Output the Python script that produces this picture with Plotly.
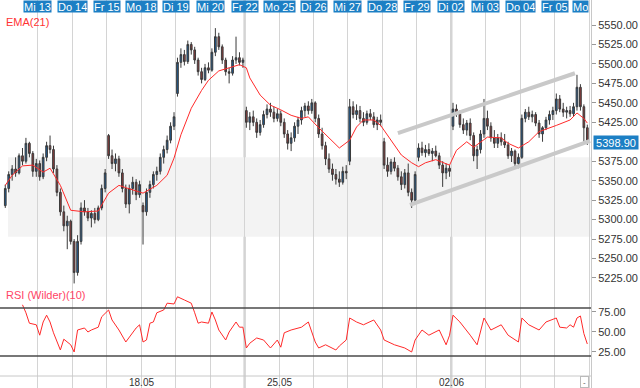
import plotly.graph_objects as go

# ---------------- data ----------------
day_labels = ["Mi 13", "Do 14", "Fr 15", "Mo 18", "Di 19", "Mi 20", "Fr 22", "Mo 25", "Di 26",
              "Mi 27", "Do 28", "Fr 29", "Di 02", "Mi 03", "Do 04", "Fr 05", "Mo"]
day_start_idx = [9.5, 19.5, 29.5, 39.5, 49.5, 59.5, 69.5, 79.5, 89.5,
                 99.5, 109.5, 119.5, 129.5, 139.5, 149.5, 159.5, 169.5]
gap_idx = [69.5, 129.5]
week_labels = ["18.05", "25.05", "02.06"]
week_idx = [39.5, 79.5, 129.5]

opens = [
    5318, 5340, 5358, 5365, 5360, 5382, 5375, 5398, 5385, 5362,
    5372, 5355, 5380, 5395, 5390, 5365, 5335, 5310, 5292, 5298,
    5272, 5232, 5272, 5315, 5310, 5302, 5308, 5300, 5315, 5340,
    5408, 5382, 5372, 5378, 5360, 5340, 5320, 5340, 5348, 5332,
    5318, 5310, 5335, 5345, 5358, 5362, 5380, 5390, 5402, 5420,
    5462, 5502, 5512, 5503, 5525, 5518, 5505, 5490, 5480, 5495,
    5492, 5515, 5535, 5522, 5505, 5490, 5488, 5505, 5508, 5502,
    5440, 5425, 5432, 5425, 5412, 5422, 5435, 5442, 5438, 5430,
    5436, 5425, 5410, 5398, 5405, 5420, 5428, 5440, 5446, 5440,
    5450, 5430, 5410, 5395, 5378, 5365, 5358, 5352, 5348, 5362,
    5375, 5445, 5435, 5440, 5430, 5425, 5436, 5432, 5422, 5428,
    5400, 5370, 5362, 5374, 5366, 5355, 5345, 5360, 5335, 5325,
    5380, 5392, 5386, 5390, 5385, 5388, 5382, 5370, 5360, 5366,
    5420, 5442, 5436, 5422, 5415, 5424, 5408, 5382, 5390, 5410,
    5430, 5420, 5405, 5398, 5405, 5400, 5396, 5382, 5388, 5372,
    5380, 5430, 5438, 5432, 5435, 5424, 5410, 5418, 5428, 5435,
    5440, 5455, 5442, 5438, 5440, 5436, 5445, 5470, 5445, 5418,
]
highs = [
    5345, 5362, 5370, 5380, 5385, 5392, 5405, 5400, 5388, 5378,
    5376, 5385, 5400, 5408, 5395, 5370, 5340, 5318, 5305, 5300,
    5275, 5280, 5322, 5325, 5315, 5312, 5315, 5318, 5345, 5365,
    5410, 5390, 5385, 5382, 5365, 5345, 5345, 5355, 5352, 5350,
    5322, 5340, 5350, 5362, 5368, 5385, 5395, 5408, 5425, 5438,
    5508, 5520, 5518, 5530, 5528, 5522, 5508, 5495, 5500, 5502,
    5520, 5546, 5540, 5525, 5508, 5495, 5510, 5535, 5515, 5508,
    5445, 5438, 5440, 5430, 5428, 5440, 5448, 5450, 5445, 5442,
    5440, 5430, 5415, 5412, 5425, 5432, 5445, 5450, 5452, 5455,
    5452, 5435, 5418, 5400, 5385, 5372, 5365, 5362, 5368, 5370,
    5455, 5452, 5448, 5446, 5438, 5440, 5442, 5438, 5432, 5435,
    5405, 5380, 5378, 5380, 5370, 5362, 5365, 5372, 5340, 5362,
    5398, 5400, 5396, 5398, 5392, 5395, 5386, 5375, 5372, 5370,
    5450, 5448, 5440, 5430, 5428, 5430, 5412, 5395, 5415, 5455,
    5440, 5425, 5415, 5410, 5412, 5410, 5400, 5392, 5390, 5385,
    5435, 5442, 5445, 5440, 5438, 5428, 5420, 5432, 5440, 5445,
    5462, 5460, 5450, 5445, 5446, 5450, 5486, 5474, 5448, 5422,
]
lows = [
    5315, 5335, 5350, 5355, 5358, 5370, 5372, 5380, 5355, 5355,
    5350, 5352, 5375, 5385, 5360, 5330, 5305, 5285, 5262, 5268,
    5218, 5228, 5268, 5305, 5298, 5290, 5295, 5298, 5312, 5335,
    5378, 5365, 5362, 5355, 5335, 5315, 5308, 5332, 5325, 5328,
    5268, 5305, 5328, 5340, 5350, 5358, 5372, 5385, 5398, 5415,
    5458, 5495, 5498, 5500, 5512, 5500, 5485, 5475, 5478, 5488,
    5490, 5510, 5518, 5500, 5485, 5475, 5485, 5500, 5498, 5495,
    5418, 5415, 5420, 5405, 5408, 5418, 5430, 5432, 5425, 5426,
    5420, 5405, 5390, 5388, 5400, 5410, 5422, 5432, 5435, 5436,
    5425, 5405, 5390, 5370, 5360, 5350, 5345, 5342, 5345, 5352,
    5370, 5430, 5428, 5425, 5420, 5422, 5428, 5418, 5415, 5420,
    5365, 5355, 5358, 5362, 5350, 5338, 5340, 5330, 5315, 5322,
    5375, 5382, 5380, 5382, 5375, 5380, 5365, 5342, 5352, 5355,
    5415, 5432, 5418, 5410, 5408, 5402, 5375, 5365, 5385, 5405,
    5415, 5400, 5392, 5392, 5395, 5392, 5378, 5374, 5368, 5366,
    5378, 5425, 5428, 5425, 5420, 5405, 5400, 5415, 5422, 5428,
    5435, 5438, 5432, 5430, 5432, 5432, 5440, 5440, 5400, 5396,
]
closes = [
    5340, 5358, 5365, 5360, 5382, 5375, 5398, 5385, 5362, 5372,
    5355, 5380, 5395, 5390, 5365, 5335, 5310, 5292, 5298, 5272,
    5232, 5272, 5315, 5310, 5302, 5308, 5300, 5315, 5340, 5360,
    5382, 5372, 5378, 5360, 5340, 5320, 5340, 5348, 5332, 5345,
    5310, 5335, 5345, 5358, 5362, 5380, 5390, 5402, 5420, 5432,
    5502, 5512, 5503, 5525, 5518, 5505, 5490, 5480, 5495, 5492,
    5515, 5535, 5522, 5505, 5490, 5488, 5505, 5508, 5502, 5505,
    5425, 5432, 5425, 5412, 5422, 5435, 5442, 5438, 5430, 5436,
    5425, 5410, 5398, 5405, 5420, 5428, 5440, 5446, 5440, 5450,
    5430, 5410, 5395, 5378, 5365, 5358, 5352, 5348, 5362, 5360,
    5445, 5435, 5440, 5430, 5425, 5436, 5432, 5422, 5428, 5425,
    5370, 5362, 5374, 5366, 5355, 5345, 5360, 5335, 5325, 5358,
    5392, 5386, 5390, 5385, 5388, 5382, 5370, 5360, 5366, 5362,
    5442, 5436, 5422, 5415, 5424, 5408, 5382, 5390, 5410, 5430,
    5420, 5405, 5398, 5405, 5400, 5396, 5382, 5388, 5372, 5380,
    5430, 5438, 5432, 5435, 5424, 5410, 5418, 5428, 5435, 5440,
    5455, 5442, 5438, 5440, 5436, 5445, 5470, 5445, 5418, 5398.9,
]
candle_idx = list(range(len(closes)))

ema_idx = [0, 2, 5, 8, 11, 13, 16, 19, 23, 27, 30, 33, 35, 37, 40, 44, 47, 49, 51, 54, 57, 59,
           62, 65, 68, 70, 71, 74, 77, 80, 83, 86, 88, 91, 94, 97, 100, 102, 104, 107, 109,
           112, 115, 118, 120, 122, 125, 129, 131, 134, 136, 140, 144, 146, 149, 152, 155,
           160, 164, 166, 168, 169]
ema_val = [5344, 5357, 5369, 5370, 5361, 5366, 5344, 5312, 5310, 5311, 5334, 5344, 5341, 5338,
           5334, 5344, 5357, 5379, 5409, 5443, 5466, 5479, 5491, 5495, 5499, 5495, 5482, 5460,
           5447, 5441, 5434, 5430, 5432, 5418, 5405, 5392, 5402, 5419, 5428, 5428, 5421,
           5402, 5383, 5373, 5368, 5373, 5377, 5370, 5389, 5400, 5393, 5406, 5405, 5398,
           5392, 5400, 5413, 5421, 5428, 5437, 5430, 5424]

rsi_idx = [5, 6, 7, 9, 10, 11, 12, 13, 14, 15, 16, 17, 19, 20, 21, 23, 24, 25, 27, 28, 30, 31,
           33, 35, 37, 38, 39, 40, 41, 42, 43, 44, 46, 47, 49, 50, 52, 54, 55, 56, 57, 59, 60,
           61, 62, 64, 65, 67, 68, 69, 70, 71, 73, 75, 77, 79, 80, 81, 83, 86, 88, 90, 91, 93,
           96, 97, 99, 100, 102, 104, 107, 109, 110, 113, 116, 118, 119, 121, 123, 126, 128,
           129, 130, 132, 135, 137, 139, 141, 144, 146, 149, 150, 152, 155, 157, 160, 161,
           163, 164, 165, 166, 167, 168, 169]
rsi_val = [84, 74, 61, 59, 46, 62.5, 71, 62.5, 49, 37.5, 27.5, 41, 34, 25, 52.5, 55, 50, 52.5,
           56, 69, 77.5, 65, 52.5, 37.5, 49, 55, 59, 37.5, 40, 61, 62.5, 74, 77.5, 86, 85, 94,
           90, 86, 74, 61, 62.5, 61, 75, 65, 52.5, 40, 50, 62.5, 56, 56, 30, 36, 42.5, 40, 30,
           40, 31, 49, 52.5, 56, 62.5, 37.5, 30, 34, 27.5, 32.5, 40, 67.5, 62.5, 59, 65, 52.5,
           40, 34, 30, 25, 40, 52.5, 46, 52.5, 34, 46, 71, 62.5, 46, 34, 67.5, 52.5, 59, 46,
           37.5, 67.5, 59, 52.5, 62.5, 67.5, 56, 55, 59, 56, 67.5, 70, 48, 35]
rsi_levels = [80, 20]

chan_upper_idx = [114, 165.4]
chan_upper_val = [5411, 5488]
chan_lower_idx = [117.5, 169.8]
chan_lower_val = [5319, 5401]

band_idx = [0.8, 175]
band_val = [5278, 5380]

price_ticks = [5225, 5250, 5275, 5300, 5325, 5350, 5375, 5425, 5450, 5475, 5500, 5525, 5550]
rsi_ticks = [25, 50, 75]
last_price = 5398.90

# ---------------- figure ----------------
BLUE = "#1c7fc4"
GRID = "#d4d4d4"
FONT = "Liberation Sans, Arial, sans-serif"
X_RANGE = [-1.53, 170.07]
SPLIT = 0.2552

fig = go.Figure()

fig.add_trace(go.Scatter(x=chan_upper_idx, y=chan_upper_val, mode="lines",
                         line=dict(color="#c9c9c9", width=4), xaxis="x", yaxis="y",
                         hoverinfo="skip", showlegend=False))
fig.add_trace(go.Scatter(x=chan_lower_idx, y=chan_lower_val, mode="lines",
                         line=dict(color="#c9c9c9", width=4), xaxis="x", yaxis="y",
                         hoverinfo="skip", showlegend=False))

fig.add_trace(go.Candlestick(
    x=candle_idx, open=opens, high=highs, low=lows, close=closes,
    increasing=dict(line=dict(color="#3a3a3a", width=1), fillcolor="#1f5d96"),
    decreasing=dict(line=dict(color="#3a3a3a", width=1), fillcolor="#8e3c3c"),
    whiskerwidth=0, xaxis="x", yaxis="y", showlegend=False, hoverinfo="skip"))

fig.add_trace(go.Scatter(x=ema_idx, y=ema_val, mode="lines",
                         line=dict(color="#ff2a2a", width=1), xaxis="x", yaxis="y",
                         hoverinfo="skip", showlegend=False))

fig.add_trace(go.Scatter(x=rsi_idx, y=rsi_val, mode="lines",
                         line=dict(color="#ff2a2a", width=1), xaxis="x2", yaxis="y2",
                         hoverinfo="skip", showlegend=False))

shapes = []
shapes.append(dict(type="rect", xref="x", yref="y", x0=band_idx[0], x1=band_idx[1],
                   y0=band_val[0], y1=band_val[1], fillcolor="#f3f3f3",
                   line=dict(width=0), layer="below"))
for g in gap_idx:
    shapes.append(dict(type="line", xref="x", yref="paper", x0=g, x1=g, y0=0, y1=1,
                       line=dict(color="#d4d4d4", width=2.5), layer="below"))
for lv in rsi_levels:
    shapes.append(dict(type="line", xref="paper", yref="y2", x0=0, x1=1, y0=lv, y1=lv,
                       line=dict(color="#4a4a4a", width=1.5)))
shapes.append(dict(type="line", xref="paper", yref="y2", x0=0, x1=1, y0=-5, y1=-5,
                   line=dict(color="#c8c8c8", width=1)))

annotations = []
for lab, xi in zip(day_labels, day_start_idx):
    annotations.append(dict(text=lab, x=xi, xref="x", y=1 - 6.5 / 388, yref="paper",
                            xanchor="right" if lab == "Mo" else "center", yanchor="middle",
                            showarrow=False, bgcolor=BLUE, borderpad=0, height=11,
                            font=dict(family=FONT, size=11, color="white")))
for lab, xi in zip(week_labels, week_idx):
    annotations.append(dict(text=lab, x=xi, xref="x", y=-12.5, yref="y2",
                            xanchor="center", yanchor="middle", showarrow=False,
                            font=dict(family=FONT, size=10, color="#333")))
annotations.append(dict(text="EMA(21)", x=4 / 591, xref="paper", y=1 - 22 / 388, yref="paper",
                        xanchor="left", yanchor="middle", showarrow=False,
                        font=dict(family=FONT, size=11, color="#ff3333")))
annotations.append(dict(text="RSI (Wilder)(10)", x=4 / 591, xref="paper", y=1 - 295 / 388,
                        yref="paper", xanchor="left", yanchor="middle", showarrow=False,
                        font=dict(family=FONT, size=11, color="#ff4466")))
annotations.append(dict(text="%.2f" % last_price, x=1 + 1.5 / 591, xref="paper", y=last_price,
                        yref="y", xanchor="left", yanchor="middle", showarrow=False,
                        bgcolor=BLUE, borderpad=0, width=44, height=13,
                        font=dict(family=FONT, size=11, color="white")))
annotations.append(dict(text="-", x=168.3, xref="x", y=-12.5, yref="y2", xanchor="center",
                        yanchor="middle", showarrow=False, bordercolor="#bbbbbb",
                        borderwidth=1, borderpad=0, width=7, height=10, bgcolor="white",
                        font=dict(family=FONT, size=8, color="#555")))

fig.update_layout(
    width=640, height=388,
    margin=dict(l=0, r=49, t=0, b=0),
    paper_bgcolor="white", plot_bgcolor="white",
    showlegend=False,
    shapes=shapes, annotations=annotations,
    xaxis=dict(domain=[0, 1], range=X_RANGE, anchor="y", tickvals=day_start_idx,
               showticklabels=False, ticks="", showgrid=True, gridcolor=GRID, gridwidth=1,
               zeroline=False, rangeslider=dict(visible=False), fixedrange=True),
    xaxis2=dict(domain=[0, 1], range=X_RANGE, anchor="y2", tickvals=day_start_idx,
                showticklabels=False, ticks="", showgrid=True, gridcolor=GRID, gridwidth=1,
                zeroline=False, matches="x"),
    yaxis=dict(domain=[SPLIT, 1], range=[5210.88, 5582.11], side="right", anchor="x",
               tickvals=price_ticks, ticktext=["%.2f" % v for v in price_ticks],
               ticks="outside", ticklen=4, tickcolor="#999", showgrid=False, zeroline=False,
               showline=True, linecolor="#c8c8c8", linewidth=1,
               tickfont=dict(family=FONT, size=11, color="#333")),
    yaxis2=dict(domain=[0, SPLIT], range=[-20, 103.75], side="right", anchor="x2",
                tickvals=rsi_ticks, ticktext=["%.2f" % v for v in rsi_ticks],
                ticks="outside", ticklen=4, tickcolor="#999", showgrid=False, zeroline=False,
                showline=True, linecolor="#c8c8c8", linewidth=1,
                tickfont=dict(family=FONT, size=11, color="#333")),
)

fig.write_html("out.html", config={"displayModeBar": False},
               post_script="document.body.style.margin='0';document.body.style.overflow='hidden';")
